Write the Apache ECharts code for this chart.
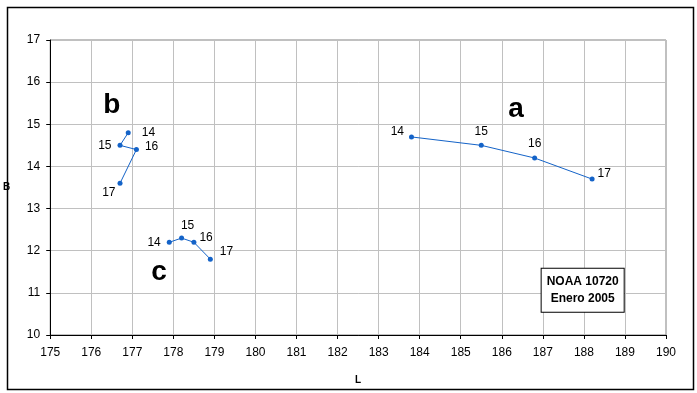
<!DOCTYPE html>
<html><head><meta charset="utf-8">
<script src="https://cdn.jsdelivr.net/npm/echarts@6/dist/echarts.min.js"></script>
<style>html,body{margin:0;padding:0;background:#fff}#c{width:697px;height:393px}</style>
</head><body><div id="c"></div>
<script>
// Days (point labels)
const days = ['14','15','16','17'];
// Series a
const aL = [183.8, 185.5, 186.8, 188.2];
const aB = [14.7, 14.5, 14.2, 13.7];
// Series b
const bL = [176.9, 176.7, 177.1, 176.7];
const bB = [14.8, 14.5, 14.4, 13.6];
// Series c
const cL = [177.9, 178.2, 178.5, 178.9];
const cB = [12.2, 12.3, 12.2, 11.8];
// Group letters (annotations) in data coordinates
const groupNames = ['a','b','c'];
const groupL = [186.35, 176.5, 177.65];
const groupB = [15.35, 15.45, 11.5];
// Note box
const noteText = 'NOAA 10720\nEnero 2005';
const noteL = 187.97, noteB = 11.06;
// Axis settings
const xMin = 175, xMax = 190, yMin = 10, yMax = 17;

const FONT = '"Liberation Sans", Arial, sans-serif';
const BLUE = '#1463c8';

function mk(L, B, labelCfg) {
  return L.map((x, i) => ({
    value: [x, B[i]],
    name: days[i],
    label: Object.assign({show: true, formatter: days[i]}, labelCfg[i])
  }));
}

const aLab = [
  {position: 'left', distance: 5, offset: [0, -5]},
  {position: 'top', distance: 5},
  {position: 'top', distance: 6},
  {position: 'right', distance: 3, offset: [0, -5]}
];
const bLab = [
  {position: 'right', distance: 11},
  {position: 'left', distance: 6},
  {position: 'right', distance: 6, offset: [0, -3]},
  {position: 'left', distance: 2, offset: [0, 9]}
];
const cLab = [
  {position: 'left', distance: 6},
  {position: 'top', distance: 4, offset: [6, 0]},
  {position: 'right', distance: 3, offset: [0, -5]},
  {position: 'right', distance: 7, offset: [0, -7]}
];

function lineSeries(data) {
  return {
    type: 'line', data: data, symbol: 'circle', symbolSize: 5,
    lineStyle: {color: BLUE, width: 1}, itemStyle: {color: BLUE, opacity: 1},
    label: {color: '#000', fontSize: 12, fontFamily: FONT},
    animation: false, silent: true, z: 3
  };
}

const chart = echarts.init(document.getElementById('c'), null, {renderer: 'canvas'});
chart.setOption({
  animation: false,
  backgroundColor: '#fff',
  grid: {left: 50, right: 31, top: 40, bottom: 58, show: true, borderColor: '#808080', borderWidth: 1, backgroundColor: '#fff'},
  xAxis: {
    type: 'value', min: xMin, max: xMax, interval: 1,
    name: 'L', nameLocation: 'middle', nameGap: 40,
    nameTextStyle: {fontFamily: FONT, fontSize: 10, fontWeight: 'bold', color: '#000'},
    axisLine: {show: true, onZero: false, lineStyle: {color: '#000', width: 1}},
    axisTick: {show: true, length: 4, lineStyle: {color: '#000'}},
    axisLabel: {color: '#000', fontSize: 12, fontFamily: FONT, margin: 12},
    splitLine: {show: true, lineStyle: {color: '#c0c0c0', width: 1}}
  },
  yAxis: {
    type: 'value', min: yMin, max: yMax, interval: 1,
    name: 'B', nameLocation: 'middle', nameGap: 40, nameRotate: 0,
    nameTextStyle: {fontFamily: FONT, fontSize: 10, fontWeight: 'bold', color: '#000'},
    axisLine: {show: true, onZero: false, lineStyle: {color: '#000', width: 1}},
    axisTick: {show: true, length: 4, lineStyle: {color: '#000'}},
    axisLabel: {color: '#000', fontSize: 12, fontFamily: FONT, margin: 10},
    splitLine: {show: true, lineStyle: {color: '#c0c0c0', width: 1}}
  },
  series: [
    lineSeries(mk(aL, aB, aLab)),
    lineSeries(mk(bL, bB, bLab)),
    lineSeries(mk(cL, cB, cLab)),
    {
      type: 'scatter', symbolSize: 0, silent: true, z: 4,
      itemStyle: {opacity: 1},
      data: groupNames.map((n, i) => ({value: [groupL[i], groupB[i]], name: n})),
      label: {show: true, position: 'inside', formatter: p => p.name,
        color: '#000', fontSize: 28, fontWeight: 'bold', fontFamily: FONT}
    },
    {
      type: 'scatter', symbolSize: 0, silent: true, z: 5,
      itemStyle: {opacity: 1},
      data: [{value: [noteL, noteB], name: noteText}],
      label: {show: true, position: 'inside', formatter: p => p.name,
        color: '#000', fontSize: 12, fontWeight: 'bold', fontFamily: FONT,
        lineHeight: 17, align: 'center',
        backgroundColor: '#fff', borderColor: '#000', borderWidth: 1,
        padding: [5, 5, 4, 5]}
    }
  ],
  graphic: [{
    type: 'rect', left: 5, top: 5, silent: true, z: 10,
    shape: {width: 686, height: 382},
    style: {fill: null, stroke: '#000', lineWidth: 1.5}
  }]
});
</script></body></html>
